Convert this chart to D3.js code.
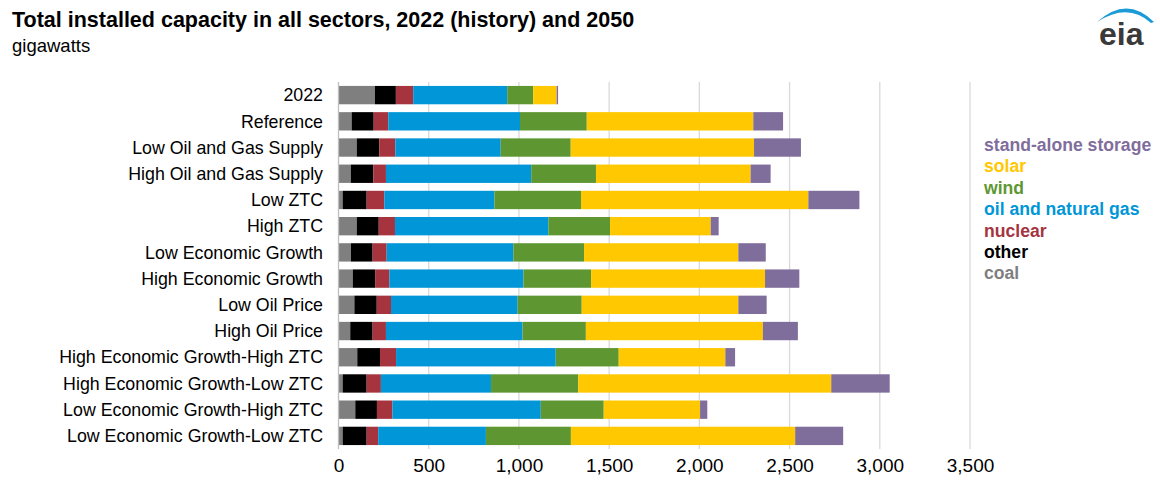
<!DOCTYPE html>
<html>
<head>
<meta charset="utf-8">
<script src="https://cdn.jsdelivr.net/npm/d3@7"></script>
<style>
  body { margin: 0; background: #fff; }
  text { font-family: "Liberation Sans", Arial, sans-serif; }
</style>
</head>
<body>
<div id="chart"></div>
<script>
const svgWidth = 1160;
const svgHeight = 487;

// data (gigawatts)
const cases = ["2022", "Reference", "Low Oil and Gas Supply", "High Oil and Gas Supply",
  "Low ZTC", "High ZTC", "Low Economic Growth", "High Economic Growth",
  "Low Oil Price", "High Oil Price", "High Economic Growth-High ZTC",
  "High Economic Growth-Low ZTC", "Low Economic Growth-High ZTC", "Low Economic Growth-Low ZTC"];

const coal    = [202, 73, 101, 68, 23, 101, 69, 79, 88, 65, 104, 23, 93, 23];
const other   = [116, 122, 125, 125, 133, 122, 120, 124, 124, 124, 126, 133, 120, 133];
const nuclear = [96, 81, 89, 70, 98, 90, 78, 79, 79, 74, 89, 79, 86, 64];
const oilGas  = [521, 730, 584, 805, 610, 850, 702, 743, 702, 757, 885, 610, 822, 597];
const wind    = [144, 370, 388, 359, 480, 342, 392, 375, 355, 351, 349, 484, 349, 471];
const solar   = [130, 923, 1016, 857, 1260, 558, 855, 964, 868, 981, 591, 1402, 534, 1243];
const storage = [8, 165, 260, 111, 283, 44, 152, 190, 157, 194, 54, 324, 40, 266];

const seriesKeys = ["coal", "other", "nuclear", "oil and natural gas", "wind", "solar", "stand-alone storage"];
const seriesValues = [coal, other, nuclear, oilGas, wind, solar, storage];
const colors = ["#7f7f7f", "#000000", "#a5343f", "#0096d7", "#5e9732", "#ffc800", "#7f6d9c"];
const xTicks = [0, 500, 1000, 1500, 2000, 2500, 3000, 3500];

const svg = d3.select("#chart")
  .append("svg")
  .attr("width", svgWidth)
  .attr("height", svgHeight);

// title
svg.append("text")
  .attr("x", 12).attr("y", 27)
  .style("font-size", "21.5px").style("font-weight", "bold")
  .attr("fill", "#000")
  .text("Total installed capacity in all sectors, 2022 (history) and 2050");
svg.append("text")
  .attr("x", 12).attr("y", 52)
  .style("font-size", "18.5px")
  .attr("fill", "#000")
  .text("gigawatts");

// eia logo
const logo = svg.append("g");
logo.append("path")
  .attr("d", "M1097,22 Q1127,-5 1154,22 L1151,23 Q1128,2 1097,22 Z")
  .attr("fill", "#1a9bd7");
logo.append("text")
  .attr("x", 1099).attr("y", 45)
  .style("font-size", "32px").style("font-weight", "bold")
  .attr("fill", "#3a3a3a")
  .text("eia");

const x = d3.scaleLinear()
  .domain([0, 3500])
  .range([338.5, 970]);

const y = d3.scaleBand()
  .domain(cases)
  .range([82, 449])
  .paddingInner(0.3)
  .paddingOuter(0.15);

// gridlines
svg.append("g")
  .selectAll("line")
  .data(xTicks.slice(1))
  .enter()
  .append("line")
  .attr("x1", d => x(d)).attr("x2", d => x(d))
  .attr("y1", 82).attr("y2", 449)
  .attr("stroke", "#d9d9d9")
  .attr("stroke-width", 1.3);

// stacked bars
const table = cases.map((c, i) => {
  const row = {case: c};
  seriesKeys.forEach((k, j) => row[k] = seriesValues[j][i]);
  return row;
});
const stacked = d3.stack().keys(seriesKeys)(table);

svg.append("g")
  .selectAll("g")
  .data(stacked)
  .enter()
  .append("g")
  .attr("fill", (d, i) => colors[i])
  .selectAll("rect")
  .data(d => d)
  .enter()
  .append("rect")
  .attr("x", d => x(d[0]))
  .attr("width", d => x(d[1]) - x(d[0]))
  .attr("y", d => y(d.data.case))
  .attr("height", y.bandwidth());

// zero axis line
svg.append("line")
  .attr("x1", x(0)).attr("x2", x(0))
  .attr("y1", 82).attr("y2", 449)
  .attr("stroke", "#bfbfbf")
  .attr("stroke-width", 1.3);

// category labels
svg.append("g")
  .selectAll("text")
  .data(cases)
  .enter()
  .append("text")
  .attr("x", 323)
  .attr("y", d => y(d) + y.bandwidth() / 2)
  .attr("dy", "0.35em")
  .attr("text-anchor", "end")
  .style("font-size", "17.8px")
  .attr("fill", "#000")
  .text(d => d);

// x axis
const xAxis = d3.axisBottom(x)
  .tickValues(xTicks)
  .tickFormat(d3.format(","))
  .tickSize(0)
  .tickPadding(0);
const axisG = svg.append("g")
  .attr("transform", "translate(0, 458)")
  .call(xAxis);
axisG.select(".domain").remove();
axisG.selectAll("text")
  .style("font-size", "19px")
  .style("font-family", "'Liberation Sans', Arial, sans-serif")
  .attr("fill", "#000");

// legend (reversed order, coloured text)
const legend = svg.append("g");
legend.selectAll("text")
  .data(seriesKeys.slice().reverse())
  .enter()
  .append("text")
  .attr("x", 984)
  .attr("y", (d, i) => 151 + i * 21.4)
  .style("font-size", "17.6px")
  .style("font-weight", "bold")
  .attr("fill", d => colors[seriesKeys.indexOf(d)])
  .text(d => d);
</script>
</body>
</html>
